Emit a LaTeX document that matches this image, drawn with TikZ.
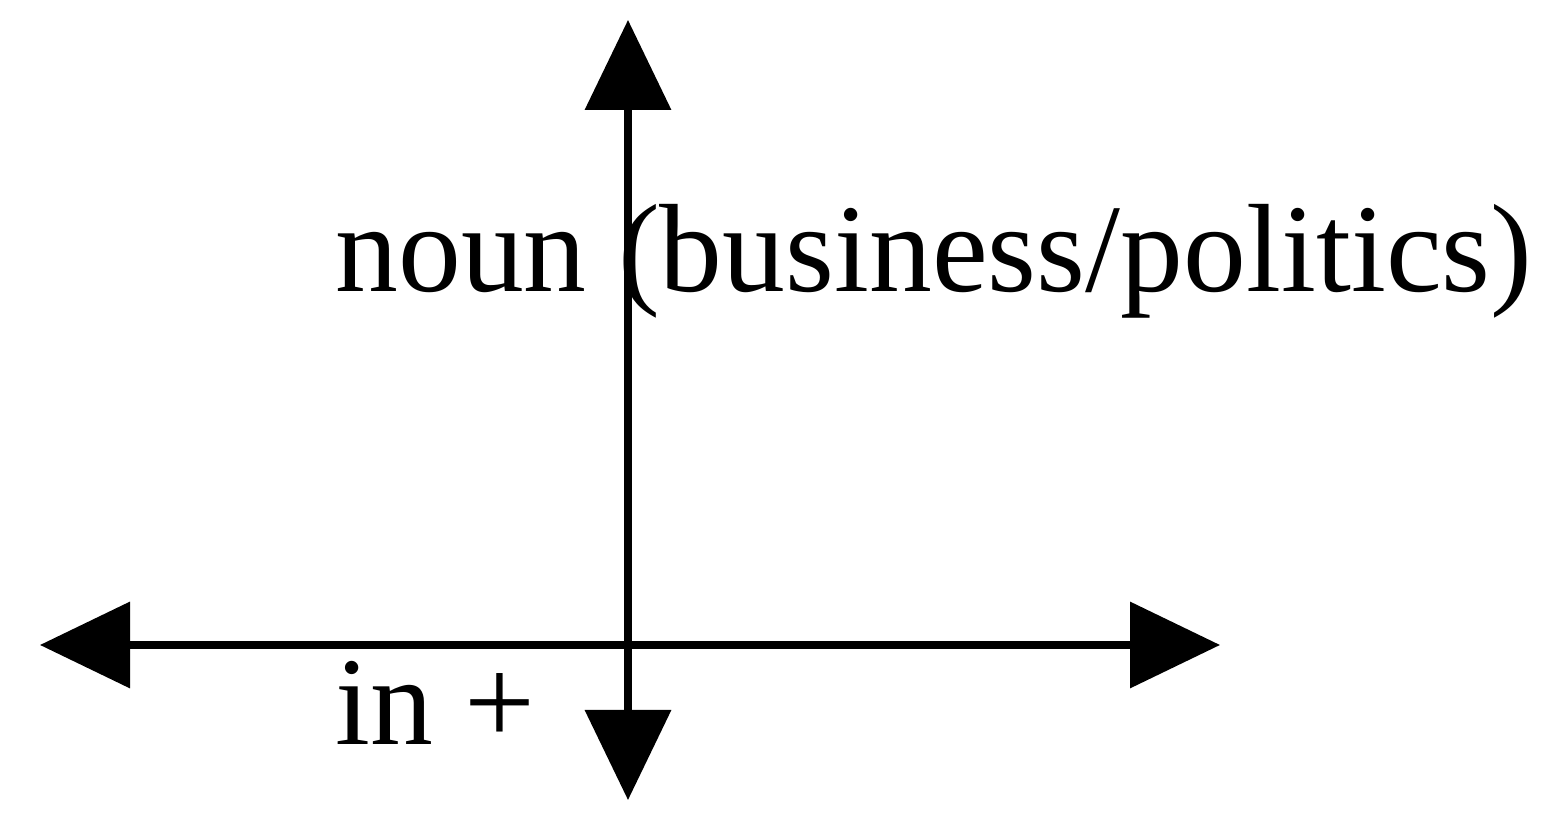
\documentclass[tikz,border=0pt]{standalone}
\usepackage{fontspec}
\setmainfont{Liberation Serif}
\usetikzlibrary{arrows.meta, positioning}

\begin{document}
\begin{tikzpicture}[
  >={Triangle[length=18mm, width=17mm]},
  axis/.style={<->, line width=4pt},
  lbl/.style={anchor=base west, inner sep=0pt, font=\fontsize{71.5}{86}\selectfont}]
  \useasboundingbox (0,0) rectangle (31.04,16.38);
  \coordinate (top) at (12.56,15.98);
  \coordinate (bottom) at (12.56,0.38);
  \coordinate (left) at (0.8,3.48);
  \coordinate (right) at (24.4,3.48);
  \draw[axis] (bottom) -- (top);
  \draw[axis] (left) -- (right);
  \node[lbl] (noun) at (6.7,10.54) {noun (business/politics)};
  \node[lbl] (inplus) at (6.7,1.48) {in +};
\end{tikzpicture}
\end{document}
